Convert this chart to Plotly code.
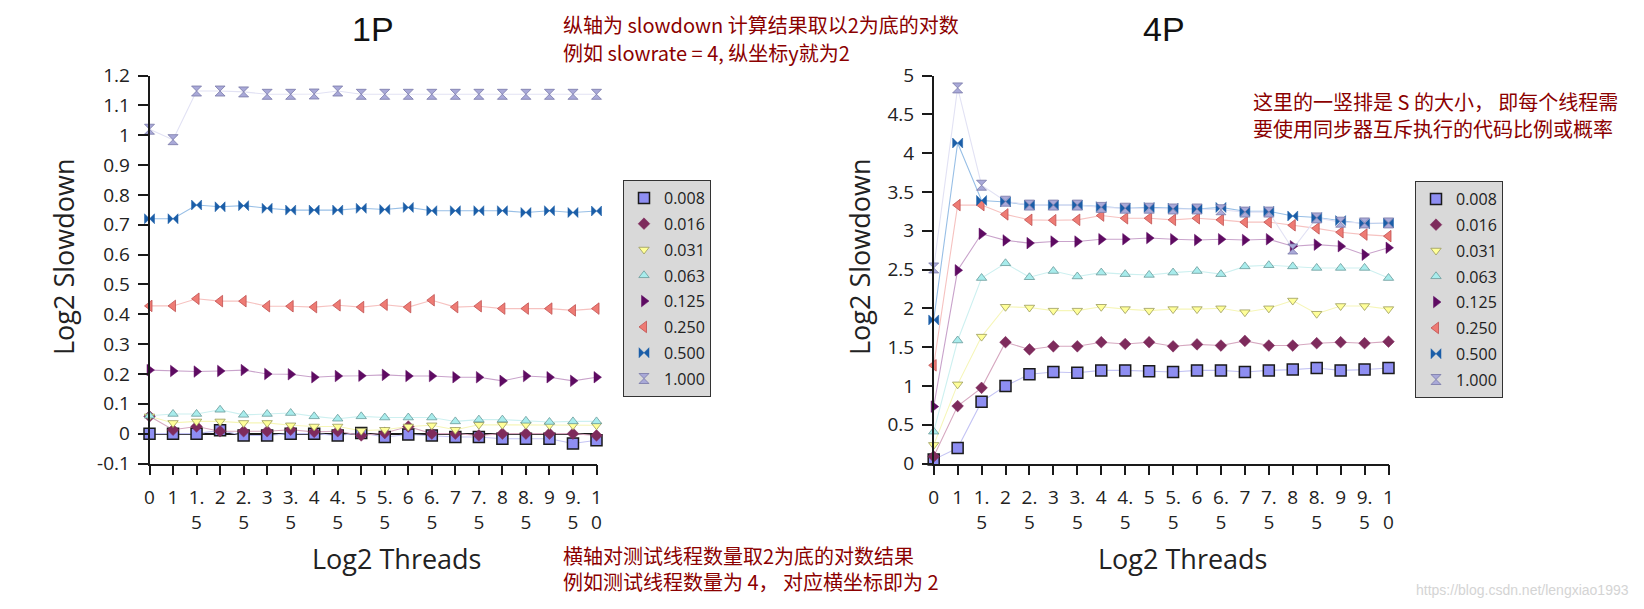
import plotly.graph_objects as go

# ---------------- data ----------------
x_categories = ["0", "1", "1.5", "2", "2.5", "3", "3.5", "4", "4.5", "5",
                "5.5", "6", "6.5", "7", "7.5", "8", "8.5", "9", "9.5", "10"]

series_names = ["0.008", "0.016", "0.031", "0.063", "0.125", "0.250", "0.500", "1.000"]

p1_y_ticks = [-0.1, 0, 0.1, 0.2, 0.3, 0.4, 0.5, 0.6, 0.7, 0.8, 0.9, 1.0, 1.1, 1.2]
p1_y_labels = ["-0.1", "0", "0.1", "0.2", "0.3", "0.4", "0.5", "0.6", "0.7", "0.8", "0.9", "1", "1.1", "1.2"]

# 1P panel (Log2 slowdown)
p1_s0008 = [0.0, 0.0, 0.0, 0.011, -0.006, -0.006, 0.0, 0.0, -0.006, 0.002,
            -0.011, -0.003, -0.006, -0.011, -0.011, -0.017, -0.017, -0.017, -0.033, -0.022]
p1_s0016 = [0.058, 0.013, 0.024, 0.008, 0.008, 0.008, 0.013, 0.006, 0.008, -0.006,
            0.002, 0.024, 0.0, 0.0, -0.006, 0.0, 0.0, 0.0, 0.0, -0.006]
p1_s0031 = [0.058, 0.036, 0.041, 0.041, 0.036, 0.036, 0.028, 0.024, 0.024, 0.010,
            0.013, 0.024, 0.028, 0.013, 0.030, 0.030, 0.030, 0.028, 0.028, 0.028]
p1_s0063 = [0.060, 0.066, 0.066, 0.080, 0.063, 0.066, 0.069, 0.058, 0.050, 0.058,
            0.054, 0.054, 0.054, 0.041, 0.047, 0.047, 0.043, 0.039, 0.041, 0.041]
p1_s0125 = [0.213, 0.210, 0.208, 0.210, 0.213, 0.200, 0.199, 0.189, 0.193, 0.194,
            0.197, 0.193, 0.193, 0.189, 0.189, 0.177, 0.193, 0.189, 0.177, 0.189]
p1_s0250 = [0.428, 0.428, 0.452, 0.444, 0.444, 0.427, 0.427, 0.424, 0.430, 0.424,
            0.432, 0.424, 0.447, 0.424, 0.427, 0.419, 0.419, 0.419, 0.413, 0.419]
p1_s0500 = [0.720, 0.720, 0.766, 0.760, 0.764, 0.755, 0.749, 0.749, 0.749, 0.755,
            0.751, 0.758, 0.747, 0.747, 0.747, 0.747, 0.741, 0.747, 0.741, 0.746]
p1_s1000 = [1.020, 0.985, 1.148, 1.148, 1.145, 1.137, 1.137, 1.138, 1.148, 1.137,
            1.137, 1.137, 1.137, 1.137, 1.137, 1.137, 1.137, 1.137, 1.137, 1.137]

# 4P panel (Log2 slowdown)
p4_s0008 = [0.05, 0.20, 0.796, 1.00, 1.15, 1.18, 1.17, 1.20, 1.20, 1.19,
            1.18, 1.20, 1.20, 1.18, 1.20, 1.21, 1.23, 1.20, 1.21, 1.23]
p4_s0016 = [0.09, 0.74, 0.975, 1.563, 1.47, 1.51, 1.51, 1.563, 1.54, 1.563,
            1.51, 1.535, 1.52, 1.58, 1.52, 1.52, 1.55, 1.563, 1.55, 1.57]
p4_s0031 = [0.24, 1.02, 1.635, 2.02, 2.01, 1.97, 1.97, 2.02, 1.99, 1.97,
            1.99, 1.99, 2.00, 1.95, 2.00, 2.10, 1.93, 2.03, 2.03, 1.99]
p4_s0063 = [0.41, 1.585, 2.39, 2.58, 2.40, 2.48, 2.41, 2.46, 2.44, 2.43,
            2.46, 2.48, 2.44, 2.54, 2.555, 2.54, 2.52, 2.52, 2.52, 2.39]
p4_s0125 = [0.733, 2.49, 2.96, 2.875, 2.84, 2.86, 2.86, 2.89, 2.89, 2.905,
            2.89, 2.88, 2.89, 2.88, 2.89, 2.80, 2.82, 2.80, 2.69, 2.78]
p4_s0250 = [1.265, 3.33, 3.33, 3.21, 3.14, 3.135, 3.14, 3.195, 3.16, 3.16,
            3.14, 3.16, 3.14, 3.11, 3.11, 3.07, 3.03, 2.98, 2.95, 2.93]
p4_s0500 = [1.85, 4.13, 3.39, 3.37, 3.33, 3.33, 3.33, 3.31, 3.29, 3.30,
            3.29, 3.28, 3.30, 3.25, 3.25, 3.19, 3.17, 3.13, 3.09, 3.10]
p4_s1000 = [2.52, 4.84, 3.586, 3.38, 3.33, 3.33, 3.33, 3.30, 3.29, 3.29,
            3.28, 3.28, 3.27, 3.24, 3.24, 2.764, 3.165, 3.11, 3.10, 3.10]

p1_series = [p1_s0008, p1_s0016, p1_s0031, p1_s0063, p1_s0125, p1_s0250, p1_s0500, p1_s1000]
p4_series = [p4_s0008, p4_s0016, p4_s0031, p4_s0063, p4_s0125, p4_s0250, p4_s0500, p4_s1000]

# ---------------- styles ----------------
symbols = ["square", "diamond", "triangle-down", "triangle-up",
           "triangle-right", "triangle-left", "bowtie", "hourglass"]
fill_colors = ["#8e8ef2", "#7e2b5c", "#ffff99", "#a8ecec", "#5e0b62", "#ee7b74", "#1b5ea8", "#a9a9d8"]
edge_colors = ["#1a1a1a", "#7e2b5c", "#9a9a5a", "#6a9a9a", "#5e0b62", "#c05050", "#1b5ea8", "#7878a8"]
edge_widths = [1.5, 0.5, 0.8, 0.8, 0.5, 0.8, 0.5, 0.8]
line_colors = ["#c4c4f4", "#d6a8c0", "#f6f6b8", "#cdf0f0", "#c9a3cb", "#f6c2c0", "#98bfe6", "#e2e2f4"]
marker_sizes = [11, 9, 9, 9, 10, 10, 10, 10]

# The page body has the browser's default 8px margin, so the figure is
# made 8px smaller and every window position is converted relative to it.
OFF = 8
W, H = 1644 - OFF, 609 - OFF


def px(x):
    return (x - OFF) / W


def py(y):
    return 1 - (y - OFF) / H


def wrap(label):
    if "." in label:
        i = label.index(".") + 1
        return label[:i] + "<br>" + label[i:]
    if len(label) > 1:
        return label[0] + "<br>" + label[1:]
    return label


tick_text = [wrap(c) for c in x_categories]

fig = go.Figure()

panels = [("x", "y", "legend", p1_series, "L"), ("x2", "y2", "legend2", p4_series, "R")]
for xa, ya, lg, data, tag in panels:
    for i, name in enumerate(series_names):
        fig.add_trace(go.Scatter(
            x=x_categories, y=data[i], xaxis=xa, yaxis=ya, mode="lines",
            line=dict(color=line_colors[i], width=1.1), showlegend=False,
            hoverinfo="skip", cliponaxis=False))
    for i, name in enumerate(series_names):
        fig.add_trace(go.Scatter(
            x=x_categories, y=data[i], xaxis=xa, yaxis=ya, mode="markers",
            name=name, legend=lg, legendgroup=tag + name,
            marker=dict(symbol=symbols[i], size=marker_sizes[i], color=fill_colors[i],
                        line=dict(color=edge_colors[i], width=edge_widths[i])),
            cliponaxis=False))

axis_font = dict(family="Open Sans", size=19, color="#222222")
common_x = dict(type="category", tickmode="array", tickvals=x_categories, ticktext=tick_text,
                range=[0, 19], showline=True, linecolor="#1a1a1a", linewidth=1.5,
                ticks="outside", ticklen=10, tickwidth=1.5, tickcolor="#1a1a1a",
                showgrid=False, zeroline=False, tickfont=axis_font, ticklabelstandoff=6,
                tickangle=0, automargin=False)
common_y = dict(showline=True, linecolor="#1a1a1a", linewidth=1.5,
                ticks="outside", ticklen=10, tickwidth=1.5, tickcolor="#1a1a1a",
                showgrid=False, tickfont=axis_font, ticklabelstandoff=4, automargin=False)

yd = [py(463.5), py(75.5)]
legend_style = dict(xanchor="left", yanchor="top", bgcolor="#d9d9d9", bordercolor="#333333",
                    borderwidth=1, font=dict(family="Open Sans", size=16, color="#222222"),
                    tracegroupgap=2, itemwidth=30)
fig.update_layout(
    width=W, height=H, margin=dict(l=0, r=0, t=0, b=0, pad=0, autoexpand=False),
    paper_bgcolor="white", plot_bgcolor="white",
    xaxis=dict(domain=[px(149.5), px(596.5)], anchor="y", **common_x),
    yaxis=dict(domain=yd, anchor="x", range=[-0.1, 1.2], tickmode="array",
               tickvals=p1_y_ticks, ticktext=p1_y_labels,
               zeroline=True, zerolinecolor="#1a1a1a", zerolinewidth=1.5, **common_y),
    xaxis2=dict(domain=[px(933.7), px(1388.5)], anchor="y2", **common_x),
    yaxis2=dict(domain=yd, anchor="x2", range=[0, 5], dtick=0.5, tick0=0,
                zeroline=False, **common_y),
    legend=dict(x=px(623), y=py(180), **legend_style),
    legend2=dict(x=px(1415), y=py(181), **legend_style),
    showlegend=True,
)

red = "#8b0000"
cjk = "Noto Sans CJK SC"
title_font = dict(family="Liberation Sans", size=34, color="#111111")
label_font = dict(family="Open Sans", size=27, color="#222222")
note_font = dict(family=cjk, size=20, color=red)
annotations = [
    dict(text="1P", x=px(372.7), y=py(29), height=30, font=title_font),
    dict(text="4P", x=px(1163.6), y=py(29.5), height=30, font=title_font),
    dict(text="Log2 Threads", x=px(396), y=py(558.5), font=label_font),
    dict(text="Log2 Threads", x=px(1182), y=py(558.5), font=label_font),
    dict(text="Log2 Slowdown", x=px(63), y=py(257), textangle=-90, font=label_font),
    dict(text="Log2 Slowdown", x=px(859), y=py(257), textangle=-90, font=label_font),
    dict(text="纵轴为 slowdown 计算结果取以2为底的对数", x=px(561), y=py(24.5),
         xanchor="left", font=note_font),
    dict(text="例如 slowrate = 4, 纵坐标y就为2", x=px(561), y=py(52),
         xanchor="left", font=note_font),
    dict(text="横轴对测试线程数量取2为底的对数结果", x=px(561), y=py(555.5),
         xanchor="left", font=note_font),
    dict(text="例如测试线程数量为 4， 对应横坐标即为 2", x=px(561), y=py(581.5),
         xanchor="left", font=note_font),
    dict(text="这里的一竖排是 S 的大小， 即每个线程需", x=px(1251), y=py(102),
         xanchor="left", font=note_font),
    dict(text="要使用同步器互斥执行的代码比例或概率", x=px(1251), y=py(128),
         xanchor="left", font=note_font),
    dict(text="https://blog.csdn.net/lengxiao1993", x=px(1631), y=py(590), xanchor="right",
         font=dict(family="Liberation Sans Narrow, Liberation Sans", size=14, color="#d4d4d4")),
]
for a in annotations:
    a.setdefault("xanchor", "center")
    a.setdefault("yanchor", "middle")
    a.update(xref="paper", yref="paper", showarrow=False)
fig.update_layout(annotations=annotations)

fig.write_html("out.html")
